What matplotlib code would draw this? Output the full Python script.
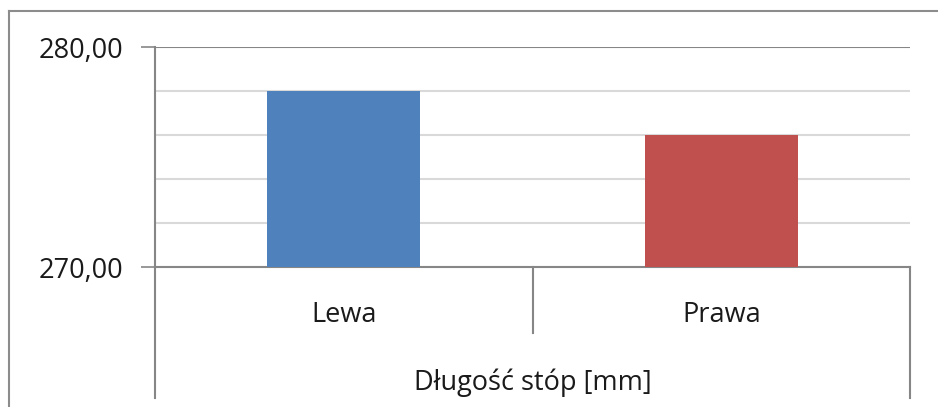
import matplotlib
matplotlib.use("Agg")
import matplotlib.pyplot as plt
from matplotlib.lines import Line2D
from matplotlib.transforms import blended_transform_factory

plt.rcParams['font.family'] = ['Open Sans', 'DejaVu Sans']

categories = ["Lewa", "Prawa"]
values = [278.0, 276.0]
bar_colors = ["#4F81BD", "#C0504D"]
group_label = "Długość stóp [mm]"
y_major = [270, 280]
y_major_labels = ["270,00", "280,00"]
y_minor = [272, 274, 276, 278]

W, H = 938, 407
fig = plt.figure(figsize=(W / 100, H / 100), dpi=100)

left, right, top, bottom = 155, 910, 47, 267
ax = fig.add_axes([left / W, 1 - bottom / H, (right - left) / W, (bottom - top) / H])

axis_gray = "#868686"
grid_gray = "#D9D9D9"
text_color = "#1a1a1a"
fs = 19.5

x = list(range(len(categories)))
ax.bar(x, [v - y_major[0] for v in values], bottom=y_major[0], width=0.405,
       color=bar_colors, zorder=3)

ax.set_xlim(-0.5, len(categories) - 0.5)
ax.set_ylim(y_major[0], y_major[-1])
ax.set_yticks(y_major)
ax.set_yticklabels(y_major_labels, fontsize=fs, color=text_color)
ax.set_yticks(y_minor, minor=True)
ax.tick_params(axis="y", which="major", length=10, width=1.2, color=axis_gray, pad=13)
ax.tick_params(axis="y", which="minor", length=0)
ax.grid(axis="y", which="minor", color=grid_gray, linewidth=1.5, zorder=0)
ax.axhline(y_major[-1], color=axis_gray, linewidth=1.5, zorder=1)

ax.set_xticks(x)
ax.set_xticklabels([])
ax.tick_params(axis="x", length=0)

for side in ("top", "right"):
    ax.spines[side].set_visible(False)
for side in ("left", "bottom"):
    ax.spines[side].set_color(axis_gray)
    ax.spines[side].set_linewidth(1.5)

# category table below the plot
trans = blended_transform_factory(ax.transData, ax.transAxes)
ax_h = bottom - top


def below(px):
    return -(px - bottom) / ax_h


ax.add_line(Line2D([-0.5, -0.5], [0, below(398)], transform=trans, color=axis_gray,
                   linewidth=1.5, clip_on=False))
ax.add_line(Line2D([len(categories) - 0.5] * 2, [0, below(398)], transform=trans,
                   color=axis_gray, linewidth=1.5, clip_on=False))
for k in range(1, len(categories)):
    ax.add_line(Line2D([k - 0.5, k - 0.5], [0, below(333)], transform=trans,
                       color=axis_gray, linewidth=1.5, clip_on=False))
for xi, name in zip(x, categories):
    ax.text(xi, below(322), name, transform=trans, ha="center", va="baseline",
            fontsize=fs, color=text_color)
ax.text((len(categories) - 1) / 2, below(390), group_label, transform=trans,
        ha="center", va="baseline", fontsize=fs, color=text_color)

# chart area border
fig.add_artist(Line2D([9 / W, 9 / W], [0, 1 - 11 / H], transform=fig.transFigure,
                      color="#8c8c8c", linewidth=1.5))
fig.add_artist(Line2D([9 / W, 1], [1 - 11 / H, 1 - 11 / H], transform=fig.transFigure,
                      color="#8c8c8c", linewidth=1.5))

fig.savefig("out.png", dpi=100, facecolor="white")
